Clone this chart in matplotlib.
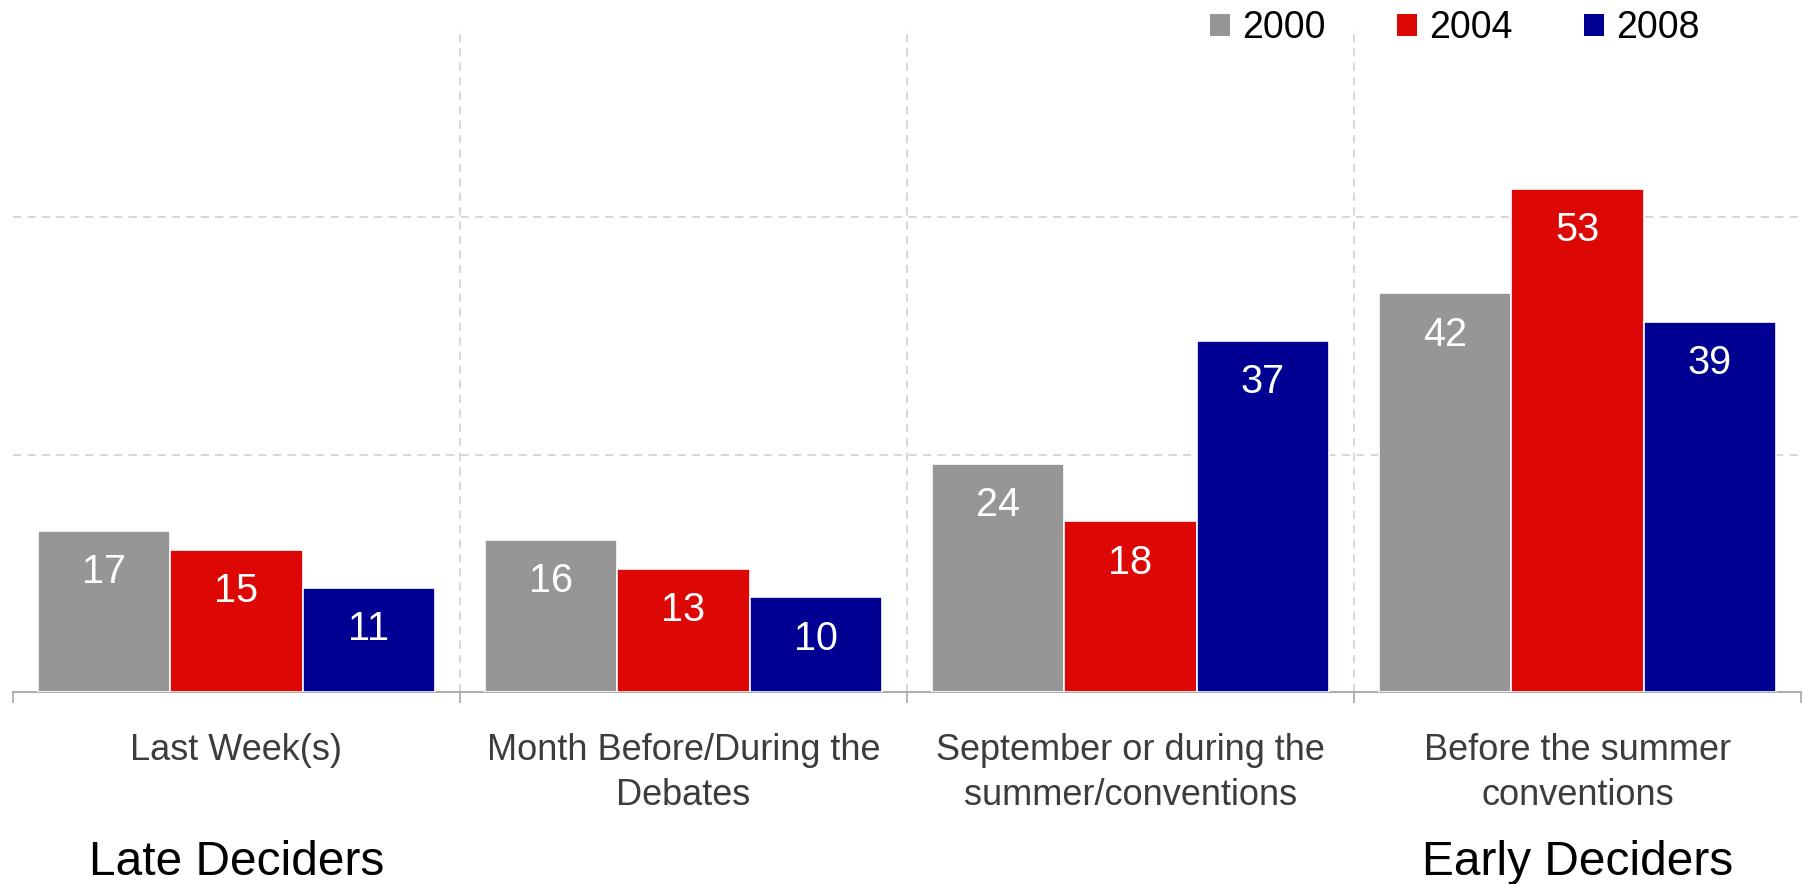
import matplotlib
matplotlib.use('Agg')
import matplotlib.pyplot as plt
from matplotlib.patches import Patch
from matplotlib.transforms import blended_transform_factory
import numpy as np

categories = ["Last Week(s)", "Month Before/During the\nDebates",
              "September or during the\nsummer/conventions", "Before the summer\nconventions"]
years = ["2000", "2004", "2008"]
v2000 = [17, 16, 24, 42]
v2004 = [15, 13, 18, 53]
v2008 = [11, 10, 37, 39]
colors = ["#969696", "#DD0806", "#000093"]
group_notes = ["Late Deciders", "Early Deciders"]

plt.rcParams['font.family'] = ['Liberation Sans', 'DejaVu Sans']

fig = plt.figure(figsize=(18.03, 8.84), dpi=100)
ax = fig.add_axes([13/1803, 192/884, (1801-13)/1803, 665/884])

x = np.arange(len(categories)) + 0.5
w = 0.296
series = [v2000, v2004, v2008]
for i, (vals, c, yr) in enumerate(zip(series, colors, years)):
    bars = ax.bar(x + (i - 1) * w, vals, width=w, color=c, edgecolor='white',
                  linewidth=1.2, label=yr, zorder=3)
    for b, v in zip(bars, vals):
        ax.annotate(str(v), (b.get_x() + b.get_width() / 2, v), xytext=(0, -37.8),
                    textcoords='offset points', ha='center', va='baseline',
                    color='white', fontsize=28.5, zorder=4)

ax.set_xlim(0, 4)
ax.set_ylim(0, 70)

# grid
grid_style = dict(color='#d4d4d4', linewidth=1.3, linestyle=(0, (4.5, 3.5)))
ax.set_yticks([25, 50])
ax.yaxis.grid(True, zorder=1, **grid_style)
ax.tick_params(axis='y', left=False, labelleft=False)
for xb in [1, 2, 3]:
    ax.axvline(xb, zorder=1, **grid_style)

# x ticks
ax.set_xticks([0, 1, 2, 3, 4])
ax.set_xticklabels([])
ax.tick_params(axis='x', which='major', length=8, width=1.2, color='#a6a6a6')
ax.set_xticks(x, minor=True)
ax.set_xticklabels(categories, minor=True, fontsize=26, color='#3c3c3c', linespacing=1.37)
ax.tick_params(axis='x', which='minor', length=0, pad=29.5)

for s in ['top', 'right', 'left']:
    ax.spines[s].set_visible(False)
ax.spines['bottom'].set_color('#a6a6a6')
ax.spines['bottom'].set_linewidth(1.3)

trans = blended_transform_factory(ax.transData, fig.transFigure)
ax.text(0.5, 9/884, group_notes[0], transform=trans, ha='center', va='baseline', fontsize=34.5, color='black')
ax.text(3.5, 9/884, group_notes[1], transform=trans, ha='center', va='baseline', fontsize=34.5, color='black')

handles = [Patch(facecolor=c, edgecolor='none') for c in colors]
fig.legend(handles, years, loc='center left', bbox_to_anchor=(1210/1803, 1 - 28/884),
           ncol=3, frameon=False, fontsize=27, handlelength=0.53, handleheight=0.53,
           handletextpad=0.32, columnspacing=1.91, borderpad=0, borderaxespad=0)

fig.savefig('out.png', dpi=100)
